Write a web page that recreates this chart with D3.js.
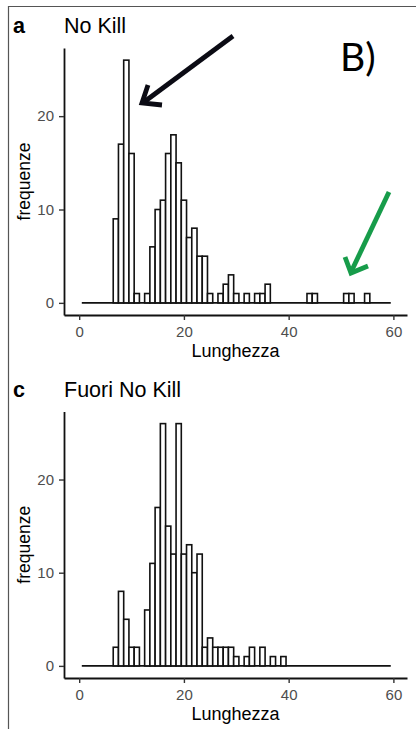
<!DOCTYPE html>
<html><head><meta charset="utf-8">
<script src="https://cdn.jsdelivr.net/npm/d3@7"></script>
<style>body{margin:0;background:#fff}svg{display:block}</style>
</head><body><svg id="c" width="416" height="729"></svg>
<script>
// lengths (bin centres, bin width 1)
const lengths = d3.range(1, 60);
// panel a: No Kill
const countsNoKill = [0,0,0,0,0,0,9,17,26,16, 1,0,1,6,10,11,16,18,15,11, 7,8,5,5,1,0,1,2,3,1, 0,1,0,1,1,2,0,0,0,0, 0,0,0,1,1,0,0,0,0,0, 1,1,0,0,1,0,0,0,0];
// panel c: Fuori No Kill
const countsFuori  = [0,0,0,0,0,0,2,8,5,2, 2,0,6,11,17,26,15,12,26,12, 13,10,12,2,3,2,2,2,2,1, 0,1,2,0,2,0,1,0,1,0, 0,0,0,0,0,0,0,0,0,0, 0,0,0,0,0,0,0,0,0];
const xTicks = [0, 20, 40, 60];
const yTicks = [0, 10, 20];
const panelTags = ["a", "c"];
const panelTitles = ["No Kill", "Fuori No Kill"];
const xTitle = "Lunghezza";
const yTitle = "frequenze";

const svg = d3.select("#c");
const font = "'Liberation Sans', Arial, sans-serif";

// outer frame
svg.append("path").attr("d", "M8.5,729 L8.5,6.5 L416,6.5")
  .attr("fill", "none").attr("stroke", "#555").attr("stroke-width", 1.2);

const layout = [
  {top: 48, bottom: 315, titleY: 33},
  {top: 411.5, bottom: 678, titleY: 397}
];
const series = [countsNoKill, countsFuori];

layout.forEach((L, i) => {
  const counts = series[i];
  const x = d3.scaleLinear().domain([-2.9, 62.6]).range([64, 407]);
  const y = d3.scaleLinear().domain([-1.3, 27.3]).range([L.bottom, L.top]);
  const g = svg.append("g");

  // baseline of zero-count bins
  g.append("line")
    .attr("x1", x(lengths[0] - 0.5)).attr("x2", x(lengths[lengths.length - 1] + 0.5))
    .attr("y1", y(0)).attr("y2", y(0))
    .attr("stroke", "#111").attr("stroke-width", 1.6);

  const data = lengths.map((l, j) => ({l, c: counts[j]})).filter(d => d.c > 0);
  g.selectAll("rect").data(data).enter().append("rect")
    .attr("x", d => x(d.l - 0.5))
    .attr("width", d => x(d.l + 0.5) - x(d.l - 0.5))
    .attr("y", d => y(d.c))
    .attr("height", d => y(0) - y(d.c))
    .attr("fill", "#fff").attr("stroke", "#111").attr("stroke-width", 1.6);

  // axes
  const ax = g.append("g").attr("transform", `translate(0,${L.bottom})`)
    .call(d3.axisBottom(x).tickValues(xTicks).tickSize(5).tickSizeOuter(0).tickPadding(6));
  const ay = g.append("g").attr("transform", `translate(64,0)`)
    .call(d3.axisLeft(y).tickValues(yTicks).tickSize(5).tickSizeOuter(0).tickPadding(5));
  [ax, ay].forEach(a => {
    a.select(".domain").attr("stroke", "#111").attr("stroke-width", 1.8);
    a.selectAll(".tick line").attr("stroke", "#333").attr("stroke-width", 1.4);
    a.selectAll(".tick text").attr("fill", "#4d4d4d").style("font-family", font).style("font-size", "15px");
  });

  // titles
  svg.append("text").attr("x", 13).attr("y", L.titleY).text(panelTags[i])
    .style("font-family", font).style("font-size", "21.5px").style("font-weight", "bold").attr("fill", "#000");
  svg.append("text").attr("x", 64).attr("y", L.titleY).text(panelTitles[i])
    .style("font-family", font).style("font-size", "21.5px").attr("fill", "#000");
  svg.append("text").attr("x", 235.5).attr("y", L.bottom + 41.5).attr("text-anchor", "middle").text(xTitle)
    .style("font-family", font).style("font-size", "18px").attr("fill", "#000");
  svg.append("text").attr("transform", `translate(29.5,${(L.top + L.bottom) / 2}) rotate(-90)`)
    .attr("text-anchor", "middle").text(yTitle)
    .style("font-family", font).style("font-size", "17.5px").attr("fill", "#000");
});

// annotations
svg.append("text").attr("x", 340).attr("y", 71).text("B)")
  .style("font-family", "Lato, 'Open Sans', sans-serif").style("font-size", "39px").attr("fill", "#000");
const arrows = [
  {shaft: [[233, 36], [144, 102]], head: [[148, 85], [142, 103], [162, 105]], color: "#0b0b14"},
  {shaft: [[389, 192], [352, 270]], head: [[345, 257], [351, 273], [368, 266]], color: "#179c4a"}
];
arrows.forEach(a => {
  svg.append("path").attr("d", d3.line()(a.shaft)).attr("fill", "none")
    .attr("stroke", a.color).attr("stroke-width", 4.8).attr("stroke-linecap", "butt");
  svg.append("path").attr("d", d3.line()(a.head)).attr("fill", "none")
    .attr("stroke", a.color).attr("stroke-width", 4.8).attr("stroke-linejoin", "miter");
});
</script>
</body></html>
